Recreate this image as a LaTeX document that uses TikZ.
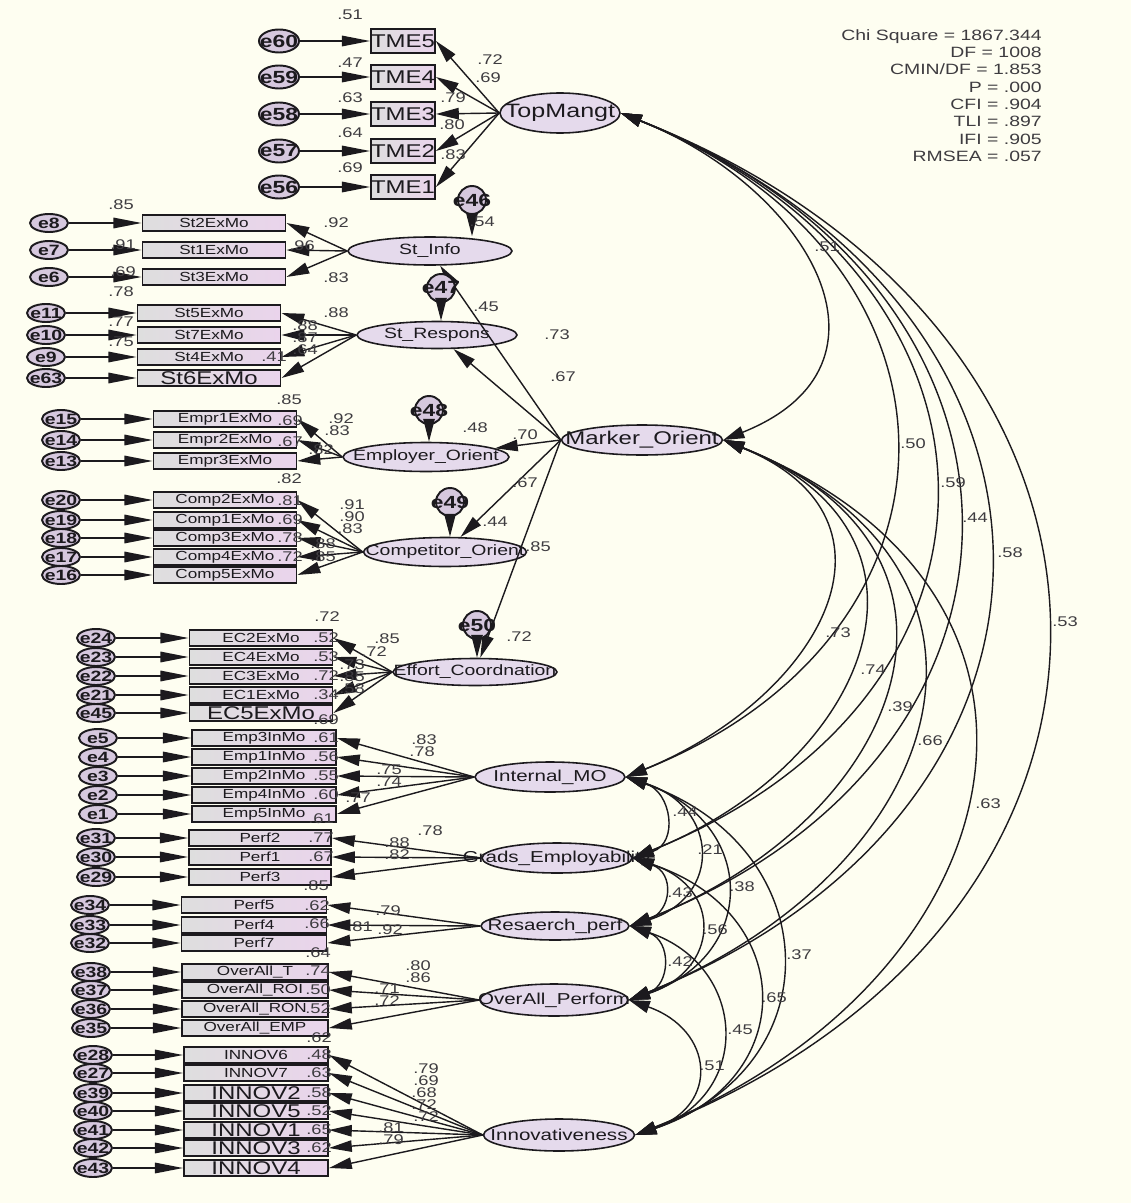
\documentclass[tikz,border=0pt]{standalone}
\usepackage{fontspec}
\setmainfont{Liberation Sans}[FakeStretch=1.3]
\usetikzlibrary{shapes.geometric,arrows.meta}
\definecolor{paper}{RGB}{254,254,241}
\definecolor{ink}{RGB}{28,26,30}
\definecolor{boxgray}{RGB}{222,222,222}
\definecolor{boxpink}{RGB}{234,212,236}
\definecolor{latfill}{RGB}{229,218,236}
\definecolor{errfill}{RGB}{214,200,222}
\newcommand{\zw}[1]{\makebox[0pt]{#1}}
\newcommand{\boxtxt}{\fontsize{7.5}{9}\selectfont}
\newcommand{\bigtxt}{\fontsize{10.5}{11}\selectfont}
\begin{document}
\begin{tikzpicture}[x=0.02cm,y=-0.02cm,
    obs/.style={rectangle,draw=ink,line width=1.1pt,left color=boxgray,right color=boxpink,
      inner sep=0pt,minimum height=0.32cm,text=ink,font=\boxtxt},
    lat/.style={ellipse,draw=ink,line width=0.9pt,fill=latfill,inner sep=0pt,
      minimum height=0.58cm,text=ink,font=\fontsize{8.5}{9}\selectfont},
    err/.style={ellipse,draw=ink,line width=1.1pt,fill=errfill,inner sep=0pt,
      minimum width=0.76cm,minimum height=0.36cm,text=ink,font=\bfseries\fontsize{8.5}{9}\selectfont},
    dist/.style={circle,draw=ink,line width=1.1pt,fill=errfill,inner sep=0pt,
      minimum size=0.56cm,text=ink,font=\bfseries\fontsize{10}{10}\selectfont},
    load/.style={draw=ink,line width=0.8pt,-{Triangle[length=13pt,width=6.5pt]}},
    epath/.style={draw=ink,line width=0.8pt,-{Triangle[length=16pt,width=6pt]}},
    cov/.style={draw=ink,line width=0.8pt,{Triangle[length=12pt,width=7pt]}-{Triangle[length=12pt,width=7pt]}},
    num/.style={inner sep=0pt,text=ink!85,font=\fontsize{8}{9}\selectfont},
  ]
  \fill[paper] (0,0) rectangle (1131,1203);
  \useasboundingbox (0,0) rectangle (1131,1203);

  \node[anchor=north east,align=right,inner sep=0pt,text=ink!85,font=\fontsize{8.5}{9.87}\selectfont] (fit) at (1042,29)
    {Chi Square = 1867.344\\DF = 1008\\CMIN/DF = 1.853\\P = .000\\CFI = .904\\TLI = .897\\IFI = .905\\RMSEA = .057};

  % top management
  \node[lat,minimum width=2.4cm,minimum height=0.8cm,font=\fontsize{11}{11}\selectfont] (tm) at (560,113) {\zw{TopMangt}};
  \foreach \n/\e/\y/\ld/\lx/\ly/\rs/\ry in {5/60/41/.72/490/60/.51/15,4/59/77/.69/488/78/.47/63,
      3/58/114/.79/453/98/.63/98,2/57/151/.80/452/125/.64/133,1/56/187/.83/453/155/.69/168}{
    \node[obs,minimum width=1.2cm,minimum height=0.48cm,font=\fontsize{10.5}{11}\selectfont] (tme\n) at (403,\y) {TME\n};
    \node[err,minimum width=0.8cm,minimum height=0.46cm,font=\bfseries\fontsize{10}{10}\selectfont] (e\e) at (279,\y) {\zw{e\e}};
    \draw[epath] (e\e) -- (tme\n);
    \draw[load] (tm.west) -- (tme\n.east);
    \node[num] at (\lx,\ly) {\ld};
    \node[num] at (350,\ry) {\rs};
  }

  % market orientation blocks
  \node[lat,minimum width=3.28cm,minimum height=0.56cm] (si) at (430,251) {\zw{St\_Info}};
  \foreach \nm/\e/\y/\ld/\lx/\ly/\rs/\rx/\ry in {St2ExMo/8/223/.92/336/223/.85/121/205,
      St1ExMo/7/250/.96/302/246/.91/123/245,St3ExMo/6/277/.83/336/278/.69/123/272}{
    \node[obs,minimum width=2.86cm] (\nm) at (214,\y) {\nm};
    \node[err] (e\e) at (49,\y) {\zw{e\e}};
    \draw[epath] (e\e) -- (\nm);
    \draw[load] (si.west) -- (\nm.east);
    \node[num] at (\lx,\ly) {\ld};
    \node[num] at (\rx,\ry) {\rs};
  }

  \node[lat,minimum width=3.2cm,minimum height=0.54cm] (sr) at (437,335) {\zw{St\_Respons}};
  \foreach \nm/\e/\y/\ld/\lx/\ly/\rs/\rx/\ry/\f in {St5ExMo/11/313/.88/336/313/.78/121/292/\boxtxt,
      St7ExMo/10/335/.88/305/326/.77/121/322/\boxtxt,St4ExMo/9/357/.87/305/338/.75/121/342/\boxtxt,
      St6ExMo/63/378/.64/305/350/.41/274/357/\bigtxt}{
    \node[obs,minimum width=2.86cm,font=\f] (\nm) at (209,\y) {\nm};
    \node[err] (e\e) at (46,\y) {\zw{e\e}};
    \draw[epath] (e\e) -- (\nm);
    \draw[load] (sr.west) -- (\nm.east);
    \node[num] at (\lx,\ly) {\ld};
    \node[num] at (\rx,\ry) {\rs};
  }

  \node[lat,minimum width=3.32cm] (eo) at (426,457) {\zw{Employer\_Orient}};
  \foreach \nm/\e/\y/\ld/\lx/\ly/\rs/\rx/\ry in {Empr1ExMo/15/419/.92/341/419/.85/289/400,
      Empr2ExMo/14/440/.83/337/431/.69/290/421,Empr3ExMo/13/461/.82/321/450/.67/290/442}{
    \node[obs,minimum width=2.86cm] (\nm) at (225,\y) {\nm};
    \node[err] (e\e) at (61,\y) {\zw{e\e}};
    \draw[epath] (e\e) -- (\nm);
    \draw[load] (eo.west) -- (\nm.east);
    \node[num] at (\lx,\ly) {\ld};
    \node[num] at (\rx,\ry) {\rs};
  }

  \node[lat,minimum width=3.26cm] (co) at (445,552) {\zw{Competitor\_Orient}};
  \foreach \nm/\e/\y/\ld/\lx/\ly/\rs/\rx/\ry in {Comp2ExMo/20/500/.91/352/505/.82/289/479,
      Comp1ExMo/19/520/.90/352/517/.81/290/501,Comp3ExMo/18/538/.83/350/529/.69/290/520,
      Comp4ExMo/17/557/.88/323/544/.78/290/538,Comp5ExMo/16/575/.85/323/557/.72/290/557}{
    \node[obs,minimum width=2.86cm] (\nm) at (225,\y) {\nm};
    \node[err] (e\e) at (61,\y) {\zw{e\e}};
    \draw[epath] (e\e) -- (\nm);
    \draw[load] (co.west) -- (\nm.east);
    \node[num] at (\lx,\ly) {\ld};
    \node[num] at (\rx,\ry) {\rs};
  }

  \node[lat,minimum width=3.28cm,minimum height=0.54cm] (ef) at (475,672) {\zw{Effort\_Coordnation}};
  \foreach \nm/\e/\y/\ld/\lx/\ly/\rs/\rx/\ry/\f in {EC2ExMo/24/638/.85/387/639/.72/327/617/\boxtxt,
      EC4ExMo/23/657/.72/374/652/.52/326/638/\boxtxt,EC3ExMo/22/676/.73/352/665/.53/326/657/\boxtxt,
      EC1ExMo/21/695/.85/352/677/.72/326/676/\boxtxt,EC5ExMo/45/713/.58/352/689/.34/326/695/\bigtxt}{
    \node[obs,minimum width=2.86cm,font=\f] (\nm) at (261,\y) {\nm};
    \node[err] (e\e) at (96,\y) {\zw{e\e}};
    \draw[epath] (e\e) -- (\nm);
    \draw[load] (ef.west) -- (\nm.east);
    \node[num] at (\lx,\ly) {\ld};
    \node[num] at (\rx,\ry) {\rs};
  }

  \node[lat,minimum width=3.22cm,minimum height=0.6cm,font=\fontsize{10.5}{11}\selectfont] (mo) at (642,440) {\zw{Marker\_Orient}};
  \draw[load] (mo.west) -- (si);
  \draw[load] (mo.west) -- (sr);
  \draw[load] (mo.west) -- (eo);
  \draw[load] (mo.west) -- (co);
  \draw[load] (mo.west) -- (ef);
  \node[num] at (557,335) {.73};
  \node[num] at (563,377) {.67};
  \node[num] at (525,435) {.70};
  \node[num] at (525,483) {.67};
  \node[num] at (538,547) {.85};

  \node[dist] (e46) at (472,200) {\zw{e46}};
  \node[dist] (e47) at (441,288) {\zw{e47}};
  \node[dist] (e48) at (429,410) {\zw{e48}};
  \node[dist] (e49) at (450,502) {\zw{e49}};
  \node[dist] (e50) at (477,625) {\zw{e50}};
  \draw[load] (e46) -- (e46 |- si.north);
  \draw[load] (e47) -- (e47 |- sr.north);
  \draw[load] (e48) -- (e48 |- eo.north);
  \draw[load] (e49) -- (e49 |- co.north);
  \draw[load] (e50) -- (e50 |- ef.north);
  \node[num] at (482,222) {.54};
  \node[num] at (486,307) {.45};
  \node[num] at (475,428) {.48};
  \node[num] at (495,522) {.44};
  \node[num] at (519,637) {.72};

  % performance blocks
  \node[lat,minimum width=3.0cm,minimum height=0.6cm,font=\fontsize{9}{9}\selectfont] (im) at (550,777) {\zw{Internal\_MO}};
  \foreach \nm/\e/\y/\ld/\lx/\ly/\rs/\rx/\ry in {Emp3InMo/5/738/.83/424/740/.69/326/720,
      Emp1InMo/4/757/.78/422/752/.61/326/738,Emp2InMo/3/776/.75/389/770/.56/326/757,
      Emp4InMo/2/795/.74/389/782/.55/326/776,Emp5InMo/1/814/.77/358/798/.60/326/795}{
    \node[obs,minimum width=2.88cm] (\nm) at (264,\y) {\nm};
    \node[err] (e\e) at (98,\y) {\zw{e\e}};
    \draw[epath] (e\e) -- (\nm);
    \draw[load] (im.west) -- (\nm.east);
    \node[num] at (\lx,\ly) {\ld};
    \node[num] at (\rx,\ry) {\rs};
  }

  \node[lat,minimum width=3.0cm,minimum height=0.6cm,font=\fontsize{9}{9}\selectfont] (ge) at (557,858) {\zw{Grads\_Employability}};
  \foreach \nm/\e/\y/\ld/\lx/\ly/\rs/\rx/\ry in {Perf2/31/838/.78/430/831/.61/321/819,
      Perf1/30/857/.88/397/843/.77/321/838,Perf3/29/877/.82/397/855/.67/321/857}{
    \node[obs,minimum width=2.84cm] (\nm) at (260,\y) {\nm};
    \node[err] (e\e) at (96,\y) {\zw{e\e}};
    \draw[epath] (e\e) -- (\nm);
    \draw[load] (ge.west) -- (\nm.east);
    \node[num] at (\lx,\ly) {\ld};
    \node[num] at (\rx,\ry) {\rs};
  }

  \node[lat,minimum width=2.96cm,minimum height=0.56cm,font=\fontsize{9}{9}\selectfont] (rp) at (555,926) {\zw{Resaerch\_perf}};
  \foreach \nm/\e/\y/\ld/\lx/\ly/\rs/\rx/\ry in {Perf5/34/905/.79/388/911/.85/316/886,
      Perf4/33/925/.81/360/927/.62/317/906,Perf7/32/943/.92/390/930/.66/317/924}{
    \node[obs,minimum width=2.9cm] (\nm) at (254,\y) {\nm};
    \node[err] (e\e) at (90,\y) {\zw{e\e}};
    \draw[epath] (e\e) -- (\nm);
    \draw[load] (rp.west) -- (\nm.east);
    \node[num] at (\lx,\ly) {\ld};
    \node[num] at (\rx,\ry) {\rs};
  }

  \node[lat,minimum width=2.96cm,minimum height=0.64cm,font=\fontsize{9}{9}\selectfont] (op) at (554,1000) {\zw{OverAll\_Perform}};
  \foreach \nm/\tx/\e/\y/\ld/\lx/\ly/\rs/\rx/\ry in {ovT/OverAll\_T/38/972/.80/418/966/.64/318/953,
      ovROI/OverAll\_ROI/37/990/.86/418/978/.74/318/971,ovRON/OverAll\_RON/36/1009/.71/387/989/.50/318/990,
      ovEMP/OverAll\_EMP/35/1028/.72/387/1001/.52/318/1009}{
    \node[obs,minimum width=2.92cm] (\nm) at (255,\y) {\tx};
    \node[err] (e\e) at (91,\y) {\zw{e\e}};
    \draw[epath] (e\e) -- (\nm);
    \draw[load] (op.west) -- (\nm.east);
    \node[num] at (\lx,\ly) {\ld};
    \node[num] at (\rx,\ry) {\rs};
  }

  \node[lat,minimum width=3.02cm,minimum height=0.64cm,font=\fontsize{9}{9}\selectfont] (inv) at (559,1135) {\zw{Innovativeness}};
  \foreach \nm/\e/\y/\ld/\lx/\ly/\rs/\ry/\f in {INNOV6/28/1055/.79/426/1069/.62/1038/\boxtxt,
      INNOV7/27/1073/.69/426/1081/.48/1055/\boxtxt,INNOV2/39/1093/.68/424/1093/.63/1073/\bigtxt,
      INNOV5/40/1111/.72/424/1105/.58/1093/\bigtxt,INNOV1/41/1130/.72/426/1117/.52/1111/\bigtxt,
      INNOV3/42/1148/.81/391/1128/.65/1130/\bigtxt,INNOV4/43/1168/.79/391/1140/.62/1148/\bigtxt}{
    \node[obs,minimum width=2.88cm,font=\f] (\nm) at (256,\y) {\nm};
    \node[err] (e\e) at (93,\y) {\zw{e\e}};
    \draw[epath] (e\e) -- (\nm);
    \draw[load] (inv.west) -- (\nm.east);
    \node[num] at (\lx,\ly) {\ld};
    \node[num] at (319,\ry) {\rs};
  }

  % covariances
  \draw[cov] (tm.east) .. controls +(188,75) and +(188,-75) .. (mo.east);
  \draw[cov] (tm.east) .. controls +(361,145) and +(361,-145) .. (im.east);
  \draw[cov] (tm.east) .. controls +(409,165) and +(409,-165) .. (ge.east);
  \draw[cov] (tm.east) .. controls +(443,175) and +(443,-175) .. (rp.east);
  \draw[cov] (tm.east) .. controls +(485,195) and +(485,-195) .. (op.east);
  \draw[cov] (tm.east) .. controls +(557,220) and +(557,-220) .. (inv.east);
  \draw[cov] (mo.east) .. controls +(195,80) and +(195,-80) .. (im.east);
  \draw[cov] (mo.east) .. controls +(237,95) and +(237,-95) .. (ge.east);
  \draw[cov] (mo.east) .. controls +(279,110) and +(279,-110) .. (rp.east);
  \draw[cov] (mo.east) .. controls +(320,130) and +(320,-130) .. (op.east);
  \draw[cov] (mo.east) .. controls +(385,155) and +(385,-155) .. (inv.east);
  \draw[cov] (im.east) .. controls +(46,15) and +(46,-15) .. (ge.east);
  \draw[cov] (im.east) .. controls +(93,30) and +(93,-30) .. (rp.east);
  \draw[cov] (im.east) .. controls +(131,45) and +(131,-45) .. (op.east);
  \draw[cov] (im.east) .. controls +(200,70) and +(200,-70) .. (inv.east);
  \draw[cov] (ge.east) .. controls +(42,15) and +(42,-15) .. (rp.east);
  \draw[cov] (ge.east) .. controls +(91,30) and +(91,-30) .. (op.east);
  \draw[cov] (ge.east) .. controls +(165,55) and +(165,-55) .. (inv.east);
  \draw[cov] (rp.east) .. controls +(42,15) and +(42,-15) .. (op.east);
  \draw[cov] (rp.east) .. controls +(118,40) and +(118,-40) .. (inv.east);
  \draw[cov] (op.east) .. controls +(85,30) and +(85,-30) .. (inv.east);
  \node[num] at (827,247) {.51};
  \node[num] at (913,444) {.50};
  \node[num] at (953,483) {.59};
  \node[num] at (975,518) {.44};
  \node[num] at (1010,553) {.58};
  \node[num] at (1065,622) {.53};
  \node[num] at (838,633) {.73};
  \node[num] at (873,670) {.74};
  \node[num] at (900,707) {.39};
  \node[num] at (930,741) {.66};
  \node[num] at (988,804) {.63};
  \node[num] at (685,812) {.44};
  \node[num] at (710,850) {.21};
  \node[num] at (742,887) {.38};
  \node[num] at (799,955) {.37};
  \node[num] at (680,893) {.43};
  \node[num] at (715,930) {.56};
  \node[num] at (774,998) {.65};
  \node[num] at (680,962) {.42};
  \node[num] at (740,1030) {.45};
  \node[num] at (712,1066) {.51};
\end{tikzpicture}
\end{document}
